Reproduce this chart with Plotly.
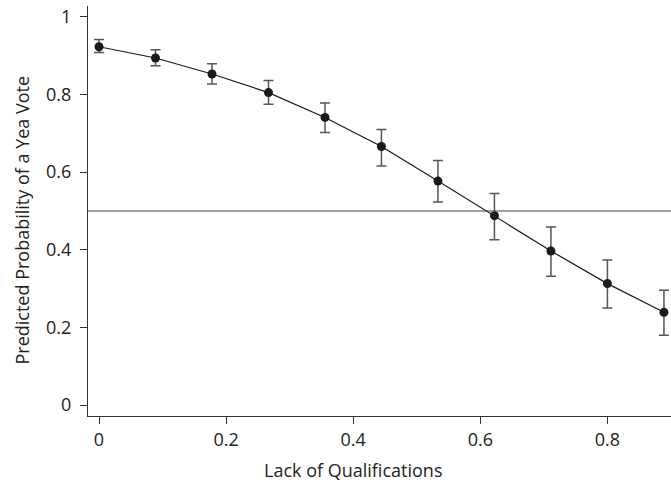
import plotly.graph_objects as go

x_vals = [0.0, 0.0889, 0.1778, 0.2667, 0.3556, 0.4444, 0.5333, 0.6222, 0.7111, 0.8, 0.8889]
y_vals = [0.923, 0.894, 0.853, 0.805, 0.741, 0.666, 0.577, 0.488, 0.397, 0.313, 0.239]
y_upper = [0.942, 0.915, 0.879, 0.836, 0.778, 0.710, 0.630, 0.545, 0.459, 0.374, 0.296]
y_lower = [0.908, 0.874, 0.827, 0.775, 0.702, 0.616, 0.523, 0.426, 0.332, 0.250, 0.180]
ref_level = 0.5

x_ticks = [0, 0.2, 0.4, 0.6, 0.8]
x_ticklabels = ["0", "0.2", "0.4", "0.6", "0.8"]
y_ticks = [0, 0.2, 0.4, 0.6, 0.8, 1]
y_ticklabels = ["0", "0.2", "0.4", "0.6", "0.8", "1"]
x_title = "Lack of Qualifications"
y_title = "Predicted Probability of a Yea Vote"

err_plus = [u - y for u, y in zip(y_upper, y_vals)]
err_minus = [y - l for y, l in zip(y_vals, y_lower)]

fig = go.Figure()
fig.add_trace(go.Scatter(
    x=x_vals, y=y_vals, mode="lines+markers",
    line=dict(color="#1a1a1a", width=1.2),
    marker=dict(color="#1a1a1a", size=9),
    error_y=dict(type="data", symmetric=False, array=err_plus, arrayminus=err_minus,
                 color="#555555", thickness=1.5, width=5),
    showlegend=False,
    cliponaxis=False,
))
fig.add_shape(type="line", xref="paper", yref="y", x0=0, x1=1, y0=ref_level, y1=ref_level,
              line=dict(color="#444444", width=1.2))

font = dict(family="Open Sans, Lato, sans-serif", size=18, color="#222222")
fig.add_annotation(text=x_title, xref="paper", yref="paper", x=0.4545, y=-0.132,
                   xanchor="center", yanchor="middle", showarrow=False, font=dict(size=18))
fig.add_annotation(text=y_title, xref="paper", yref="paper", x=-0.113, y=0.477,
                   xanchor="center", yanchor="middle", textangle=-90, showarrow=False,
                   font=dict(size=18))
fig.update_layout(
    width=671, height=483,
    margin=dict(l=88, r=0, t=6, b=67, autoexpand=False),
    plot_bgcolor="white", paper_bgcolor="white",
    font=font,
)
fig.update_xaxes(
    range=[-0.0173, 0.9], tickvals=x_ticks, ticktext=x_ticklabels,
    showline=True, linecolor="#333333", linewidth=1.2,
    ticks="outside", ticklen=7, tickcolor="#333333", tickwidth=1.2,
    showgrid=False, zeroline=False, automargin=False,
    tickfont=dict(size=18),
)
fig.update_yaxes(
    range=[-0.028, 1.028], tickvals=y_ticks, ticktext=y_ticklabels,
    showline=True, linecolor="#333333", linewidth=1.2,
    ticks="outside", ticklen=7, tickcolor="#333333", tickwidth=1.2,
    showgrid=False, zeroline=False, automargin=False,
    tickfont=dict(size=18), ticklabelstandoff=5,
)
fig.write_html("out.html", config={"displayModeBar": False},
               post_script="document.body.style.margin='0';document.body.style.overflow='hidden';")
